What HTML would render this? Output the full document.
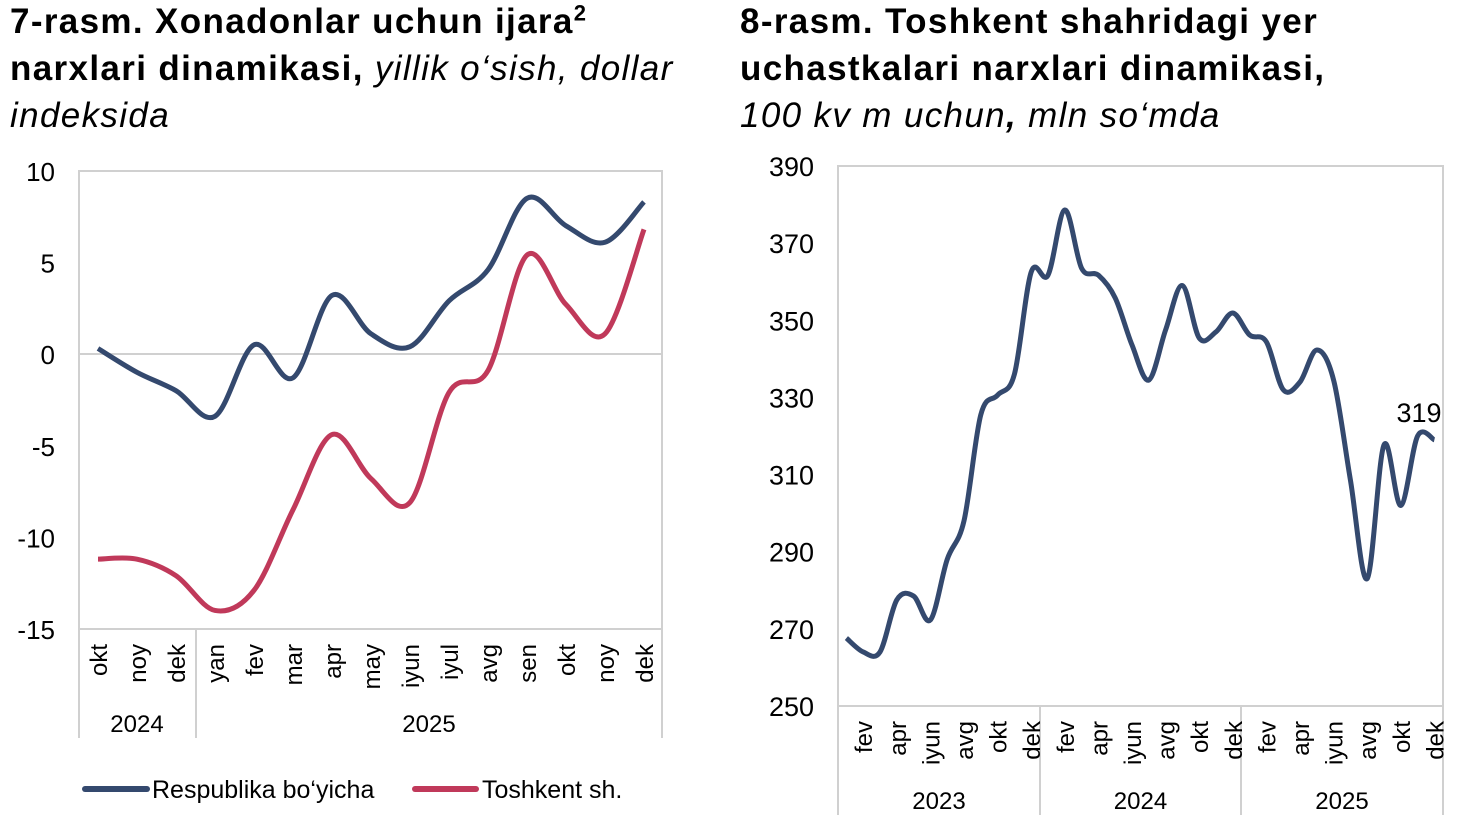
<!DOCTYPE html>
<html><head><meta charset="utf-8"><style>
body{margin:0;background:#fff;width:1462px;height:833px;overflow:hidden;font-family:"Liberation Sans",sans-serif}
.t{position:absolute;font-size:35px;line-height:47px;color:#000;letter-spacing:1.35px;white-space:nowrap}
</style></head><body>
<div class="t" style="left:10px;top:-2px"><b>7-rasm. Xonadonlar uchun ijara<sup style="font-size:22px;line-height:0">2</sup><br>narxlari dinamikasi,</b> <i>yillik o‘sish, dollar<br>indeksida</i></div>
<div class="t" style="left:740px;top:-2px"><b>8-rasm. Toshkent shahridagi yer<br>uchastkalari narxlari dinamikasi,</b><br><i>100 kv m uchun<b>,</b> mln so‘mda</i></div>
<svg id="s" width="1462" height="833" style="position:absolute;left:0;top:0" font-family="Liberation Sans, sans-serif"></svg>
<script>
var s=document.getElementById('s'),h='';
function path(pts){var d='M'+pts[0][0]+','+pts[0][1];for(var i=0;i<pts.length-1;i++){var p0=pts[i-1]||pts[i],p1=pts[i],p2=pts[i+1],p3=pts[i+2]||p2;var t=6;d+=' C'+(p1[0]+(p2[0]-p0[0])/t)+','+(p1[1]+(p2[1]-p0[1])/t)+' '+(p2[0]-(p3[0]-p1[0])/t)+','+(p2[1]-(p3[1]-p1[1])/t)+' '+p2[0]+','+p2[1];}return d;}
h+='<rect x="79" y="171" width="583" height="458" fill="none" stroke="#d0d0d0" stroke-width="2"/>';
h+='<line x1="79" y1="354" x2="662" y2="354" stroke="#d0d0d0" stroke-width="2"/>';
[79,196,662].forEach(function(x){h+='<line x1="'+x+'" y1="629" x2="'+x+'" y2="738" stroke="#d0d0d0" stroke-width="2"/>';});
[10,5,0,-5,-10,-15].forEach(function(v,i){h+='<text x="55" y="'+(181+i*91.6)+'" font-size="26" text-anchor="end">'+v+'</text>';});
var lm=['okt','noy','dek','yan','fev','mar','apr','may','iyun','iyul','avg','sen','okt','noy','dek'];
lm.forEach(function(m,i){var x=98+39*i;h+='<text transform="translate('+(x+9)+',644) rotate(-90)" font-size="24" text-anchor="end">'+m+'</text>';});
h+='<text x="137" y="732" font-size="24" text-anchor="middle">2024</text><text x="429" y="732" font-size="24" text-anchor="middle">2025</text>';
var B=[0.3,-1.0,-2.0,-3.4,0.5,-1.3,3.2,1.1,0.4,2.9,4.6,8.5,7.0,6.1,8.3],R=[-11.2,-11.2,-12.1,-14.0,-12.9,-8.5,-4.4,-6.8,-8.1,-2.1,-0.9,5.4,2.7,1.1,6.8];
function lp(a){return a.map(function(v,i){return [98+39*i,354-v*18.32];});}
h+='<path d="'+path(lp(R))+'" fill="none" stroke="#c0395a" stroke-width="5"/>';
h+='<path d="'+path(lp(B))+'" fill="none" stroke="#34496e" stroke-width="5"/>';
h+='<line x1="85" y1="789" x2="147" y2="789" stroke="#34496e" stroke-width="6" stroke-linecap="round"/><text x="152" y="798" font-size="25">Respublika bo‘yicha</text>';
h+='<line x1="415" y1="789" x2="476" y2="789" stroke="#c0395a" stroke-width="6" stroke-linecap="round"/><text x="482" y="798" font-size="25">Toshkent sh.</text>';
h+='<rect x="838" y="166" width="605" height="540" fill="none" stroke="#d0d0d0" stroke-width="2"/>';
[838,1040,1241,1443].forEach(function(x){h+='<line x1="'+x+'" y1="706" x2="'+x+'" y2="815" stroke="#d0d0d0" stroke-width="2"/>';});
[390,370,350,330,310,290,270,250].forEach(function(v,i){h+='<text x="814" y="'+(176+i*77.14)+'" font-size="27" text-anchor="end">'+v+'</text>';});
var rm=['fev','apr','iyun','avg','okt','dek'];
for(var y=0;y<3;y++)rm.forEach(function(m,j){var i=y*12+1+2*j,x=838+16.8*(i+0.5);h+='<text transform="translate('+(x+9)+',721) rotate(-90)" font-size="24" text-anchor="end">'+m+'</text>';});
['2023','2024','2025'].forEach(function(t,i){h+='<text x="'+(939+201.5*i)+'" y="809" font-size="24" text-anchor="middle">'+t+'</text>';});
var V=[267.6,264,264,277.5,278.5,272.3,288,298,325.5,330.6,336,362.5,361.7,378.6,363.5,361.7,355.8,343.6,334.5,347.5,359,345.4,347,351.9,346.2,344.4,332,334,342.3,334.5,308.6,283,317.7,302,320,319];
var rp=V.map(function(v,i){return [838+16.8*(i+0.5),166+(390-v)*3.857];});
h+='<path d="'+path(rp)+'" fill="none" stroke="#34496e" stroke-width="5"/>';
h+='<text x="1419" y="422" font-size="27" text-anchor="middle">319</text>';
s.innerHTML=h;
</script>
</body></html>
